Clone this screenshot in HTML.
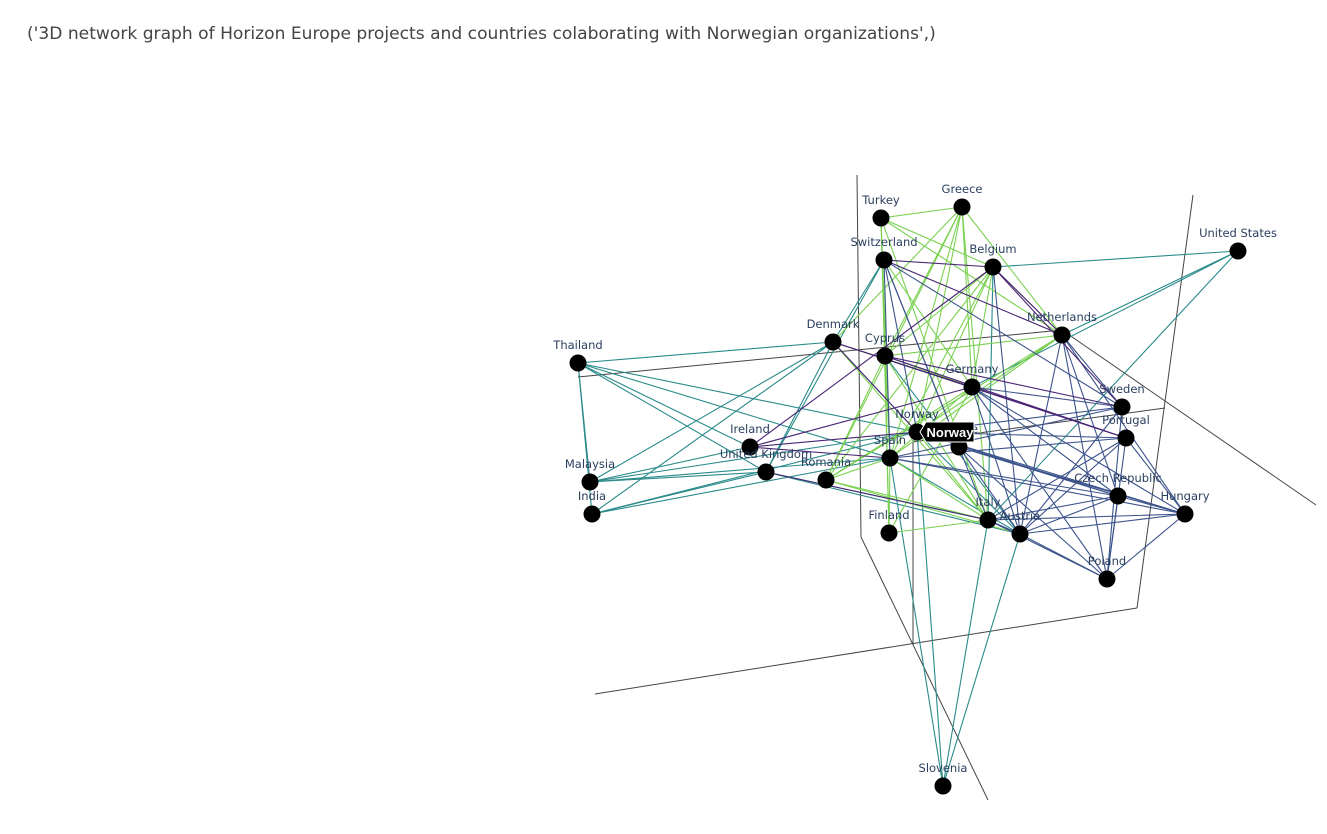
<!DOCTYPE html>
<html><head><meta charset="utf-8"><style>
body{margin:0;background:#fff;width:1327px;height:834px;overflow:hidden;font-family:"DejaVu Sans","Liberation Sans",sans-serif}
#title{position:absolute;left:27px;top:24px;font-size:17.1px;color:#444;white-space:nowrap}
svg{position:absolute;left:0;top:0}
</style></head><body>
<div id="title">('3D network graph of Horizon Europe projects and countries colaborating with Norwegian organizations',)</div>
<svg id="chart" width="1327" height="834"></svg>
<script>
const nodeNames=["Turkey","Greece","Switzerland","Belgium","United States","Netherlands","Denmark","Cyprus","Thailand","Germany","Sweden","Portugal","Norway","France","Ireland","Spain","United Kingdom","Romania","Malaysia","India","Czech Republic","Hungary","Italy","Austria","Finland","Poland","Slovenia"];
const nodeX=[881,962,884,993,1238,1062,833,885,578,972,1122,1126,917,959,750,890,766,826,590,592,1118,1185,988,1020,889,1107,943];
const nodeY=[218,207,260,267,251,335,342,356,363,387,407,438,432,447,447,458,472,480,482,514,496,514,520,534,533,579,786];
const greenEdges=[["Turkey","Greece"],["Turkey","Belgium"],["Turkey","Netherlands"],["Turkey","Spain"],["Turkey","Finland"],["Turkey","Italy"],["Turkey","Cyprus"],["Greece","Cyprus"],["Greece","Spain"],["Greece","Norway"],["Greece","Germany"],["Greece","Netherlands"],["Greece","Denmark"],["Greece","Italy"],["Greece","Romania"],["Belgium","Cyprus"],["Belgium","Spain"],["Belgium","Norway"],["Belgium","Romania"],["Belgium","Netherlands"],["Belgium","Germany"],["Cyprus","Netherlands"],["Cyprus","Germany"],["Cyprus","Spain"],["Cyprus","Italy"],["Cyprus","Finland"],["Cyprus","Romania"],["Netherlands","Spain"],["Netherlands","Norway"],["Netherlands","Romania"],["Germany","Spain"],["Germany","Romania"],["Germany","Finland"],["Spain","Romania"],["Spain","Italy"],["Spain","Finland"],["Romania","Italy"],["Finland","Italy"],["Denmark","Germany"],["Switzerland","Germany"],["Norway","Italy"],["Romania","Austria"],["Denmark","Italy"]];
const tealEdges=[["Thailand","Denmark"],["Thailand","Malaysia"],["Thailand","India"],["Thailand","United Kingdom"],["Thailand","Norway"],["Thailand","Spain"],["Thailand","Ireland"],["Malaysia","Denmark"],["Malaysia","United Kingdom"],["Malaysia","Spain"],["Malaysia","Ireland"],["Malaysia","Norway"],["India","Denmark"],["India","United Kingdom"],["India","Spain"],["India","Norway"],["Denmark","United Kingdom"],["Denmark","Norway"],["Switzerland","United Kingdom"],["Switzerland","Denmark"],["United States","Belgium"],["United States","Netherlands"],["United States","Germany"],["United States","Italy"],["Slovenia","Spain"],["Slovenia","Austria"],["Slovenia","Norway"],["Slovenia","Italy"],["Belgium","Italy"],["United Kingdom","Italy"],["United Kingdom","Austria"],["Spain","Austria"],["Norway","Austria"],["Cyprus","Austria"]];
const blueEdges=[["Switzerland","Norway"],["Switzerland","France"],["Switzerland","Spain"],["Switzerland","Italy"],["Netherlands","Czech Republic"],["Netherlands","Hungary"],["Netherlands","Poland"],["Netherlands","Austria"],["Netherlands","Sweden"],["Germany","Czech Republic"],["Germany","Hungary"],["Germany","Poland"],["Germany","Austria"],["Germany","Sweden"],["Sweden","Poland"],["Sweden","Austria"],["Sweden","Norway"],["Sweden","Spain"],["Portugal","Poland"],["Portugal","Austria"],["Portugal","Hungary"],["Portugal","Norway"],["Portugal","Spain"],["Portugal","Italy"],["Czech Republic","Hungary"],["Czech Republic","Austria"],["Czech Republic","Italy"],["Czech Republic","Norway"],["Czech Republic","France"],["Czech Republic","Poland"],["Hungary","Austria"],["Hungary","Poland"],["Hungary","Italy"],["Hungary","France"],["Hungary","Spain"],["Poland","Austria"],["Poland","Italy"],["Poland","France"],["Austria","France"],["Austria","Italy"],["Norway","Hungary"],["Belgium","Austria"],["Switzerland","Sweden"],["Spain","Czech Republic"]];
const purpleEdges=[["Switzerland","Belgium"],["Switzerland","Netherlands"],["Belgium","Netherlands"],["Belgium","Sweden"],["Denmark","Germany"],["Denmark","Norway"],["Cyprus","Sweden"],["Cyprus","Portugal"],["Ireland","Germany"],["Ireland","Belgium"],["Ireland","Norway"],["Germany","Portugal"],["United Kingdom","Italy"],["Denmark","Portugal"],["Ireland","Spain"]];
const axisLines=[[857,175,861,537],[861,537,988,800],[1193,195,1137,608],[1137,608,595,694],[578,377,1062,330],[1062,330,1316,505],[912,442,1165,408],[913,440,913,645]];
const NS="http://www.w3.org/2000/svg";
const svg=document.getElementById('chart');
const idx=n=>nodeNames.indexOf(n);
const sx=i=>nodeX[i], sy=i=>nodeY[i];
function mk(t,a){const e=document.createElementNS(NS,t);for(const k in a)e.setAttribute(k,a[k]);return e;}
axisLines.forEach(l=>{const e=mk('line',{x1:l[0],y1:l[1],x2:l[2],y2:l[3],stroke:'#444','stroke-width':1});

svg.appendChild(e);});
function drawEdges(list,color,name){list.forEach(p=>{const a=idx(p[0]),b=idx(p[1]);
const e=mk('line',{x1:sx(a),y1:sy(a),x2:sx(b),y2:sy(b),stroke:color,'stroke-width':1.1});

svg.appendChild(e);});}
drawEdges(tealEdges,'#2a8a8a','edge-teal');
drawEdges(greenEdges,'#7ad151','edge-green');
drawEdges(blueEdges,'#3b528b','edge-blue');
drawEdges(purpleEdges,'#482575','edge-purple');
nodeNames.forEach((n,i)=>{
const c=mk('circle',{cx:sx(i),cy:sy(i),r:8.5,fill:'#000'});

svg.appendChild(c);
const t=mk('text',{x:sx(i),y:sy(i)-14,'text-anchor':'middle','font-size':11.5,fill:'#2a3f5f','font-family':'DejaVu Sans, Liberation Sans, sans-serif'});
t.textContent=n;

svg.appendChild(t);});
const g=mk('g',{});


const ni=idx('Norway');
g.appendChild(mk('polygon',{points:`${sx(ni)+3},${sy(ni)} ${sx(ni)+9},${sy(ni)-10} ${sx(ni)+57},${sy(ni)-10} ${sx(ni)+57},${sy(ni)+10} ${sx(ni)+9},${sy(ni)+10}`,fill:'#000',stroke:'#fff','stroke-width':1}));
const tt=mk('text',{x:sx(ni)+33,y:sy(ni)+5,'text-anchor':'middle','font-size':13,'font-weight':'bold',fill:'#fff','font-family':'Liberation Sans, sans-serif'});
tt.textContent='Norway';g.appendChild(tt);svg.appendChild(g);
</script>
</body></html>
